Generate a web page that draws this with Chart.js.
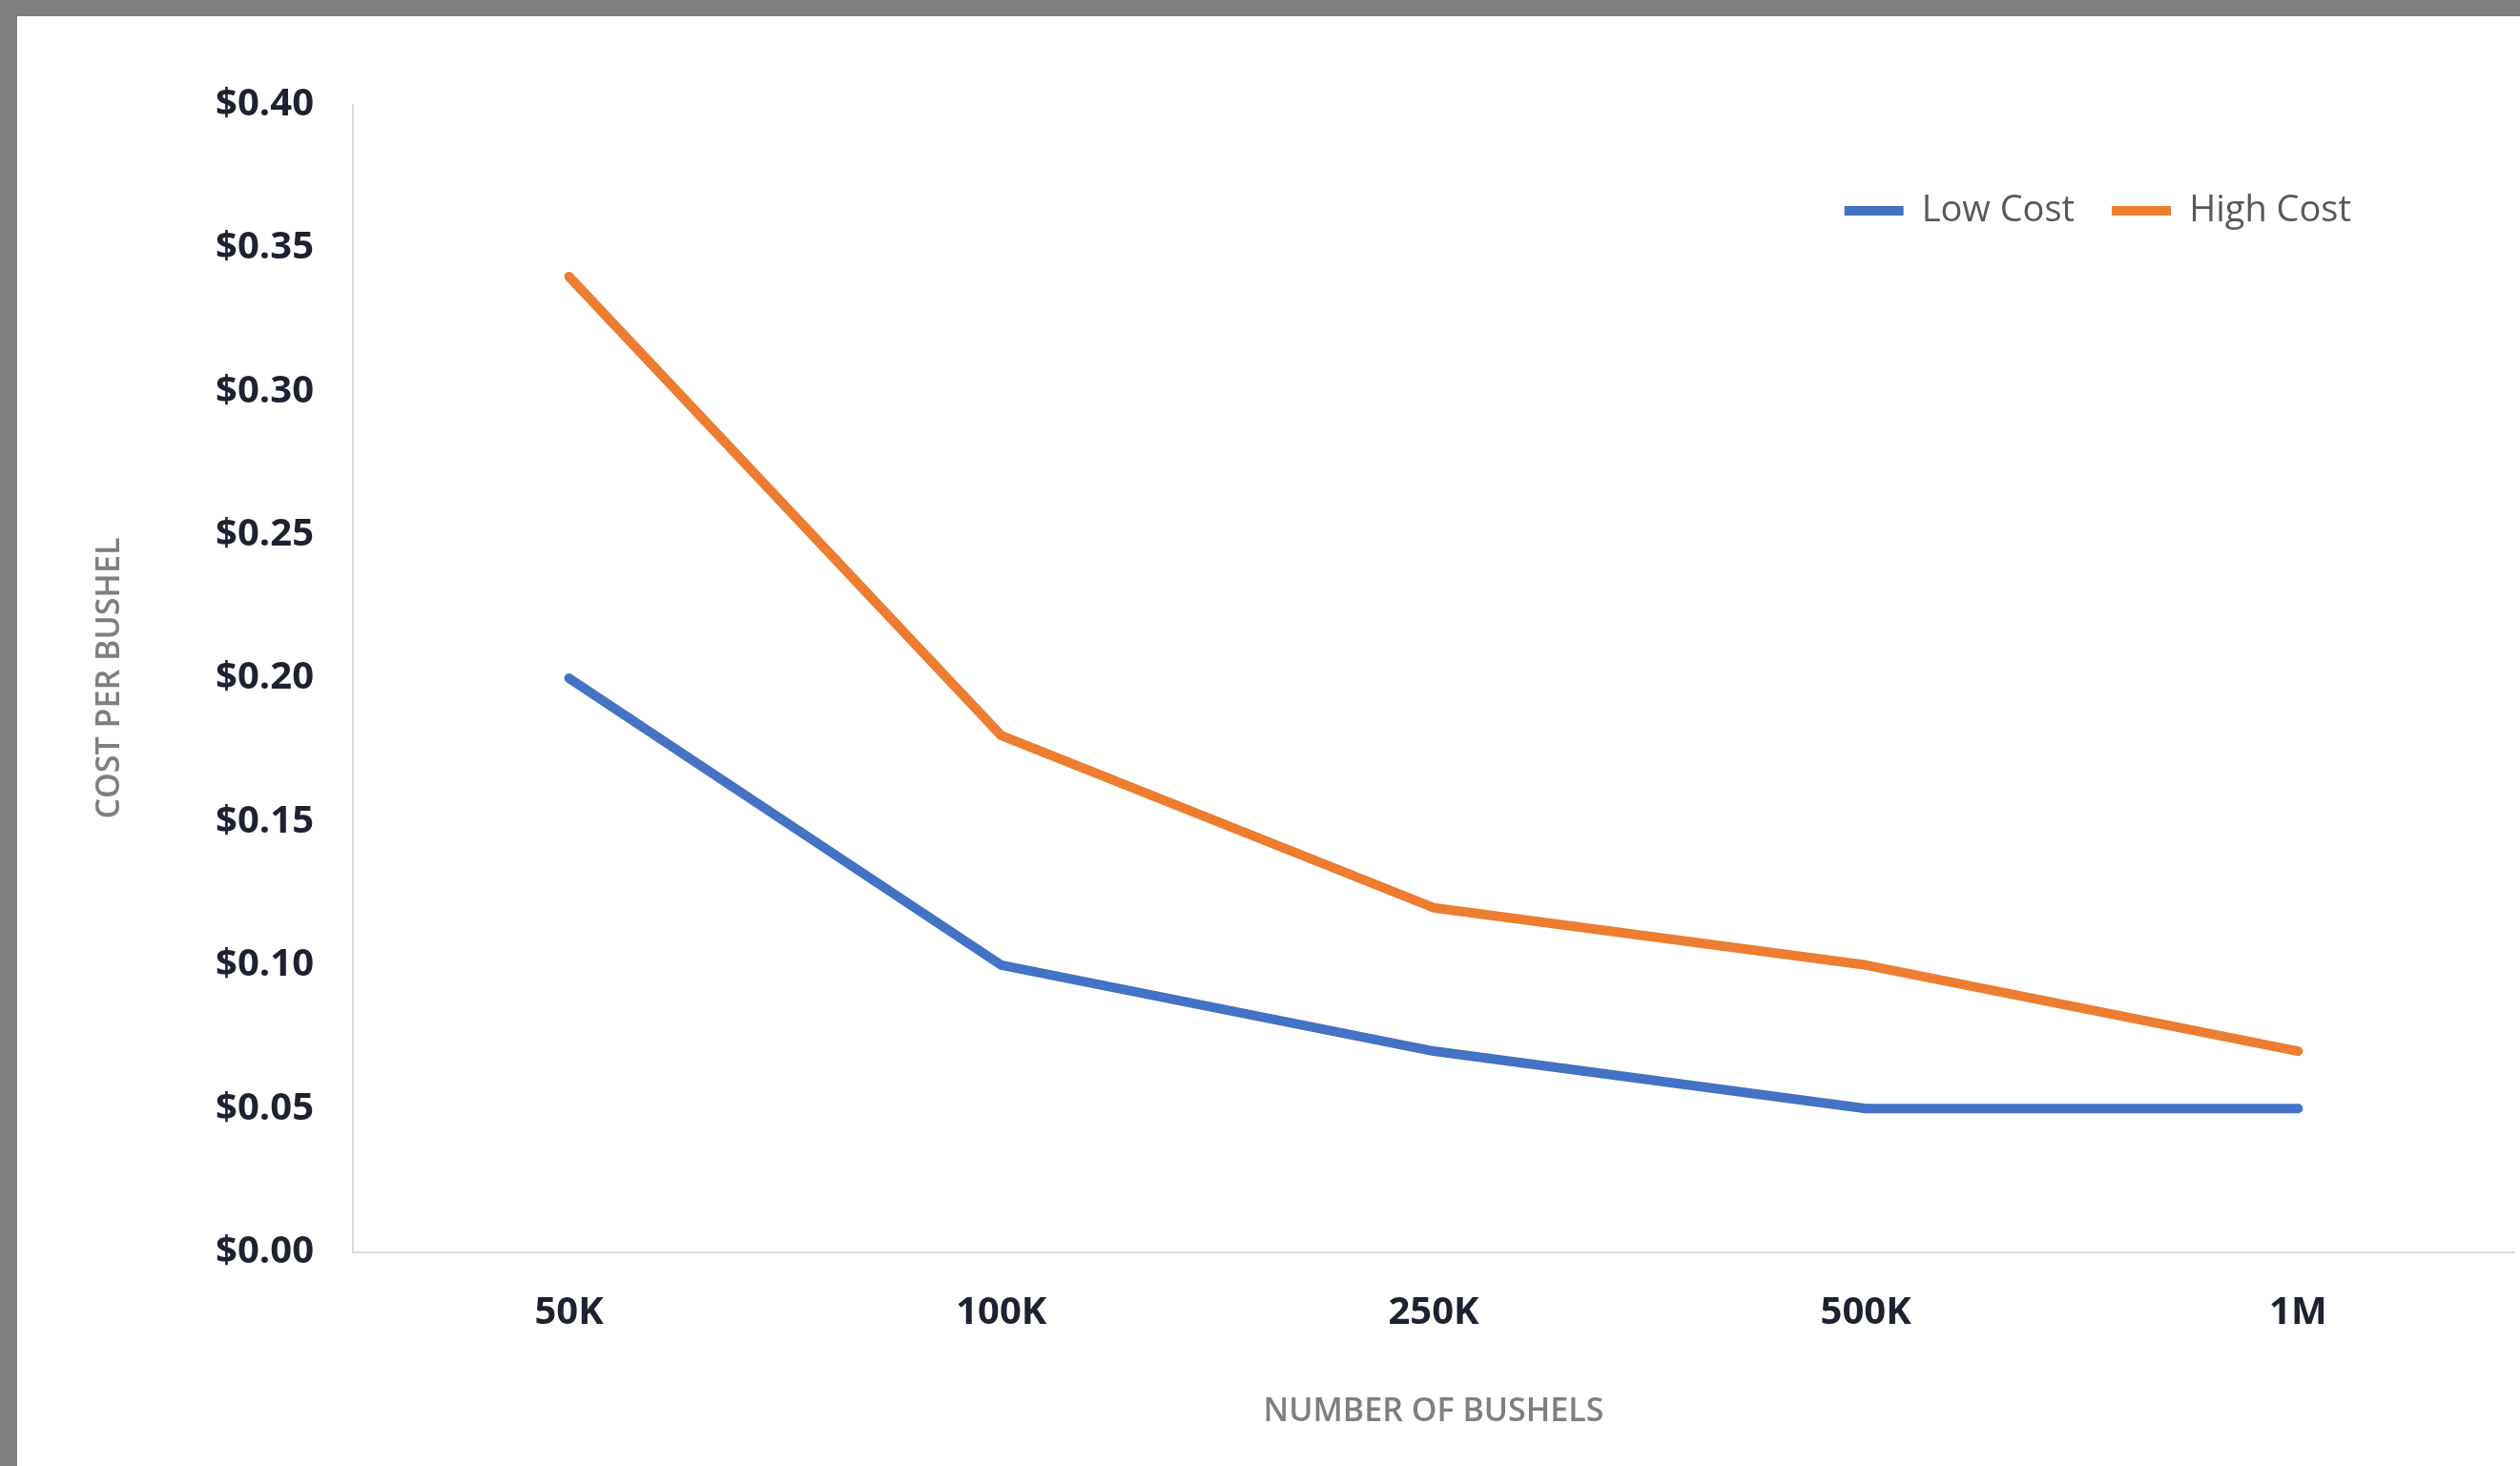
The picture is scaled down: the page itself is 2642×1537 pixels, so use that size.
<!DOCTYPE html>
<html>
<head>
<meta charset="utf-8">
<script src="https://cdn.jsdelivr.net/npm/chart.js@4.4.1/dist/chart.umd.min.js"></script>
<style>
  html, body { margin: 0; padding: 0; background: #7f807e; width: 2642px; height: 1537px; overflow: hidden; }
  #wrap { position: absolute; left: 18px; top: 17px; width: 2624px; height: 1520px; background: #fff; }
</style>
</head>
<body>
<div id="wrap"><canvas id="costChart"></canvas></div>
<script>
// data
const bushels = ['50K', '100K', '250K', '500K', '1M'];
const lowCost = [0.20, 0.10, 0.07, 0.05, 0.05];
const highCost = [0.34, 0.18, 0.12, 0.10, 0.07];
const costTicks = [0, 0.05, 0.10, 0.15, 0.20, 0.25, 0.30, 0.35, 0.40];

// legend sits inside the plot, top right, laid out in one row
const legendSpot = {
  id: 'legendSpot',
  beforeLayout(chart) {
    chart.legend.isHorizontal = () => true;
  },
  afterLayout(chart) {
    const lg = chart.legend;
    const h = lg.height;
    lg.left = 0;
    lg.top = 146;
    lg.bottom = lg.top + h;
    lg.right = 2486;
  }
};

const costChart = new Chart(document.getElementById('costChart'), {
  type: 'line',
  data: {
    labels: bushels,
    datasets: [{
      label: 'Low Cost',
      data: lowCost,
      borderColor: '#4472c4',
      backgroundColor: '#4472c4',
      borderWidth: 10,
      borderCapStyle: 'round'
    }, {
      label: 'High Cost',
      data: highCost,
      borderColor: '#ed7d31',
      backgroundColor: '#ed7d31',
      borderWidth: 10,
      borderCapStyle: 'round'
    }]
  },
  options: {
    responsive: true,
    maintainAspectRatio: false,
    animation: false,
    layout: { padding: { top: 92.5, right: 6, left: 0, bottom: 0 } },
    elements: {
      line: { tension: 0, borderJoinStyle: 'round' },
      point: { radius: 0, hoverRadius: 0 }
    },
    plugins: {
      legend: {
        position: 'chartArea',
        align: 'end',
        labels: {
          usePointStyle: true,
          pointStyle: 'line',
          pointStyleWidth: 62,
          padding: 39,
          color: '#595959',
          font: { family: 'Open Sans', size: 38 }
        }
      },
      tooltip: { enabled: false }
    },
    scales: {
      x: {
        offset: true,
        grid: { display: false, drawTicks: false },
        border: { display: true, color: '#d9d9d9', width: 2 },
        ticks: {
          padding: 40,
          color: '#1e2230',
          font: { family: 'Open Sans', size: 40, weight: 'bold' }
        },
        title: {
          display: true,
          text: 'NUMBER OF BUSHELS',
          color: '#7f7f7f',
          font: { family: 'Open Sans', size: 34, weight: '600' },
          padding: { top: 0, bottom: 36 }
        },
        afterFit(scale) { scale.height = 224.4; }
      },
      y: {
        min: 0,
        max: 0.4,
        grid: { display: false, drawTicks: false },
        border: { display: true, color: '#d9d9d9', width: 2 },
        afterBuildTicks(scale) { scale.ticks = costTicks.map(v => ({ value: v })); },
        ticks: {
          padding: 41,
          color: '#1e2230',
          font: { family: 'Open Sans', size: 40, weight: 'bold' },
          callback: (v) => '$' + Number(v).toFixed(2)
        },
        title: {
          display: true,
          text: 'COST PER BUSHEL',
          color: '#7f7f7f',
          font: { family: 'Open Sans', size: 34, weight: '600' },
          padding: { top: 77, bottom: 0 }
        },
        afterFit(scale) { scale.width = 352; }
      }
    }
  },
  plugins: [legendSpot]
});
</script>
</body>
</html>
